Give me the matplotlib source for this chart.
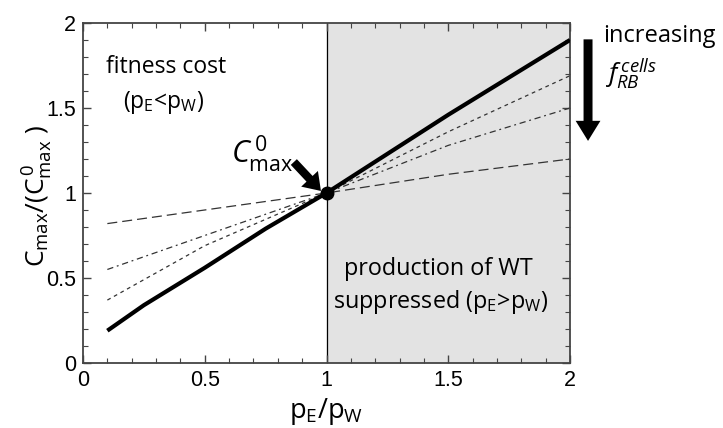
import matplotlib
matplotlib.use('Agg')
import matplotlib.pyplot as plt
from matplotlib.ticker import MultipleLocator

plt.rcParams['mathtext.fontset'] = 'custom'
plt.rcParams['mathtext.rm'] = 'Open Sans'
plt.rcParams['mathtext.it'] = 'Open Sans:italic'
plt.rcParams['mathtext.sf'] = 'Open Sans'

# curves
x_solid = [0.1, 0.25, 0.5, 0.75, 1.0, 1.25, 1.5, 1.75, 2.0]
y_solid = [0.19, 0.34, 0.56, 0.79, 1.0, 1.23, 1.46, 1.68, 1.9]

x_dash = [0.1, 0.5, 1.0, 1.5, 2.0]
y_short = [0.37, 0.69, 1.0, 1.36, 1.69]
y_dashdot = [0.55, 0.75, 1.0, 1.28, 1.5]
y_long = [0.82, 0.9, 1.0, 1.11, 1.2]

x_ticks = [0, 0.5, 1, 1.5, 2]
y_ticks = [0, 0.5, 1, 1.5, 2]
tick_labels = ['0', '0.5', '1', '1.5', '2']

fig = plt.figure(figsize=(7.23, 4.28), dpi=100)
ax = fig.add_axes([0.1148, 0.1519, 0.6736, 0.7944])

ax.axvspan(1, 2, color='#e3e3e3', zorder=0)
ax.axvline(1, color='black', lw=0.9, zorder=1)

ax.plot(x_dash, y_long, color='#333333', lw=0.9, dashes=(8, 4), zorder=2)
ax.plot(x_dash, y_dashdot, color='#333333', lw=0.9, dashes=(5, 3, 1.5, 3), zorder=2)
ax.plot(x_dash, y_short, color='#333333', lw=0.9, dashes=(3, 3), zorder=2)
ax.plot(x_solid, y_solid, color='black', lw=3, solid_capstyle='butt', zorder=3)
ax.plot([1], [1], 'o', color='black', markersize=9, zorder=4)

ax.set_xlim(0, 2)
ax.set_ylim(0, 2)
ax.set_xticks(x_ticks)
ax.set_yticks(y_ticks)
ax.set_xticklabels(tick_labels)
ax.set_yticklabels(tick_labels)
ax.xaxis.set_minor_locator(MultipleLocator(0.1))
ax.yaxis.set_minor_locator(MultipleLocator(0.1))
ax.tick_params(which='both', direction='in', top=True, right=True, color='#444444')
ax.tick_params(which='major', length=6, width=1, labelsize=15.5, pad=5)
ax.tick_params(which='minor', length=3.5, width=0.8)
for lab in ax.get_xticklabels() + ax.get_yticklabels():
    lab.set_family('Liberation Sans')
for s in ax.spines.values():
    s.set_color('#444444')
    s.set_linewidth(1.3)

ax.set_xlabel(r'p$_\mathrm{E}$/p$_\mathrm{W}$', family='Open Sans', fontsize=19.5, labelpad=4)
ax.set_ylabel(r'C$_\mathrm{max}$/(C$^{\,0}_\mathrm{max}$ )', family='Open Sans', fontsize=19)
ax.yaxis.set_label_coords(-0.058, 0.49)

ax.text(0.34, 1.74, 'fitness cost', ha='center', va='center', family='Open Sans', fontsize=16.5)
ax.text(0.33, 1.53, r'(p$_\mathrm{E}$<p$_\mathrm{W}$)', ha='center', va='center', family='Open Sans', fontsize=16.5)
ax.text(1.46, 0.55, 'production of WT', ha='center', va='center', family='Open Sans', fontsize=16.8)
ax.text(1.47, 0.36, r'suppressed (p$_\mathrm{E}$>p$_\mathrm{W}$)', ha='center', va='center', family='Open Sans', fontsize=16.8)

ax.text(0.735, 1.23, r'$C^{\,0}_\mathrm{max}$', ha='center', va='center', fontsize=22)
ax.annotate('', xy=(0.985, 1.0), xytext=(0.858, 1.194),
            arrowprops=dict(arrowstyle='simple,tail_width=0.4,head_width=1.1,head_length=0.8',
                            mutation_scale=15, color='black', lw=0), zorder=5)

ax.annotate('', xy=(1.037, 0.645), xytext=(1.037, 0.96), xycoords='axes fraction',
            annotation_clip=False,
            arrowprops=dict(arrowstyle='simple,tail_width=0.38,head_width=1.05,head_length=0.85',
                            mutation_scale=17, color='black', lw=0))
ax.text(1.068, 0.962, 'increasing', transform=ax.transAxes, ha='left', va='center',
        family='Open Sans', fontsize=17, clip_on=False)
ax.text(1.072, 0.85, r'$f^{\,cells}_{RB}$', transform=ax.transAxes, ha='left', va='center',
        fontsize=19, clip_on=False)

fig.savefig('out.png', dpi=100)
